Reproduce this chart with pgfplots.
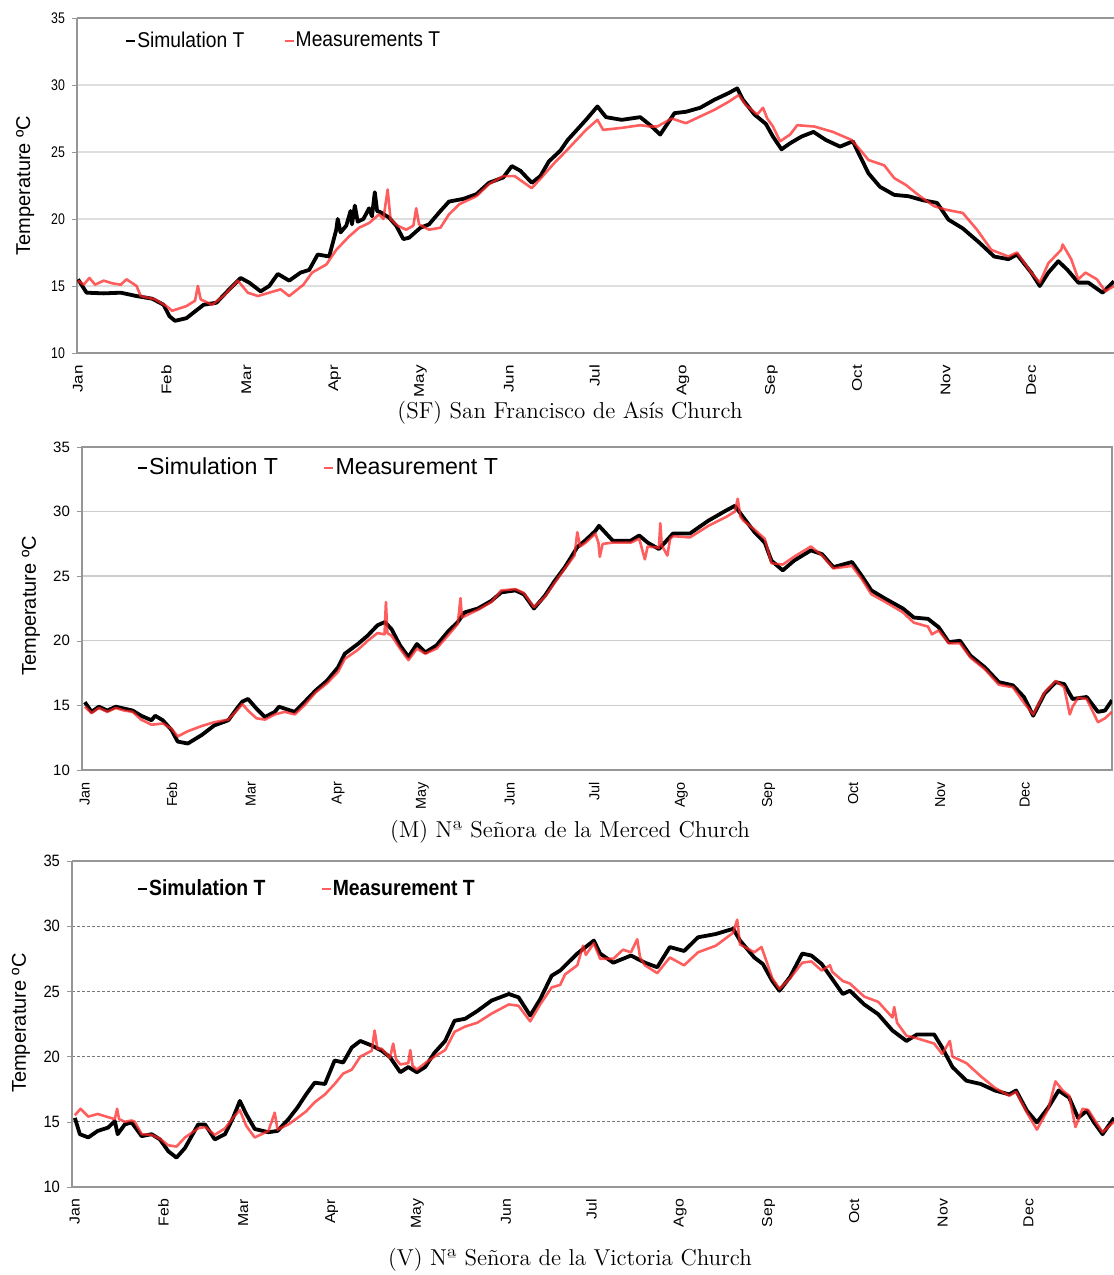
\documentclass[border=0pt]{standalone}
\usepackage{fontspec}
\usepackage{pgfplots}
\pgfplotsset{compat=1.18}
\newfontfamily\fA{Liberation Sans}
\newfontfamily\fN[FakeStretch=0.8]{Liberation Sans}
\newfontfamily\fNt[FakeStretch=0.9]{Liberation Sans}
\newfontfamily\fNB[FakeStretch=0.88]{Liberation Sans}
\newfontfamily\fW[FakeStretch=1.22]{Liberation Sans}
\newfontfamily\fWt[FakeStretch=1.1]{Liberation Sans}
\definecolor{meas}{RGB}{255,40,40}
\definecolor{axgray}{RGB}{150,150,150}
\definecolor{gridA}{RGB}{222,222,222}
\definecolor{gridB}{RGB}{205,205,205}
\definecolor{gridC}{RGB}{120,120,120}
\pgfplotsset{
  panel/.style={
    scale only axis, ymin=10, ymax=35, ytick={10,15,...,35},
    xtick={0,31,59,90,120,151,181,212,243,273,304,334},
    xticklabels={Jan,Feb,Mar,Apr,May,Jun,Jul,Ago,Sep,Oct,Nov,Dec},
    /pgf/number format/assume math mode=true,
    axis line style={-,draw=axgray,line width=0.7pt},
    major x tick style={draw=none},
    major y tick style={draw=axgray},
    tick align=outside, major tick length=2.5pt,
    ymajorgrids,
    xticklabel style={rotate=90,anchor=east},
    legend columns=2,
    legend cell align=left,
    legend image code/.code={\draw[#1,line width=1pt] (0pt,0pt) -- (4.5pt,0pt);},
    ylabel={Temperature ºC},
  },
  sim/.style={black,line width=1.9pt,line join=round},
  mea/.style={meas,opacity=0.75,line width=1.3pt,line join=round},
}
\begin{document}
\begin{tikzpicture}
\useasboundingbox (0pt,0pt) rectangle (557pt,637.5pt);
% ---------------- Panel 1 (SF)
\begin{axis}[panel, at={(38.5pt,461pt)}, anchor=south west,
  width=518.5pt, height=167.5pt, xmin=-0.35, xmax=363,
  axis x line*=box, axis y line*=left,
  major grid style={gridA,line width=0.7pt},
  yticklabel style={font=\fN\fontsize{7.7}{8}\selectfont},
  xticklabel style={font=\fW\fontsize{7}{8}\selectfont},
  ylabel style={font=\fA\fontsize{10}{11}\selectfont, at={(axis description cs:-0.050,0.5)}, anchor=center},
  legend style={draw=none,fill=none,inner sep=0pt,at={(axis description cs:0.046,0.931)},anchor=west,
    nodes={inner xsep=0.6pt},
    font=\fNt\fontsize{10.7}{12}\selectfont, /tikz/every even column/.append style={column sep=19pt}},
]
\addplot[sim] coordinates {(0,15.5)(3,14.5)(9,14.45)(15,14.5)(20.5,14.25)(26,14.05)(30,13.6)(32,12.75)(34,12.4)(38,12.6)(44,13.6)(48.5,13.75)(53,14.75)(57,15.6)(60,15.25)(64,14.6)(67,15.0)(70,15.9)(74,15.4)(78,16.0)(81,16.2)(84,17.35)(88,17.2)(90.5,19.2)(91,20.0)(92,19.0)(94,19.5)(95.5,20.6)(96,19.6)(97,21.0)(98,19.8)(100,20.0)(102,20.8)(103,20.2)(104,22.0)(104.8,20.6)(106,20.5)(109,20.1)(111.5,19.5)(114,18.5)(116,18.6)(120,19.35)(123,19.6)(127,20.6)(130,21.3)(135,21.5)(139.6,21.85)(144,22.7)(149,23.1)(152,23.95)(155,23.6)(159,22.7)(162,23.2)(165,24.3)(169,25.1)(171.6,25.9)(178,27.4)(182,28.4)(185,27.6)(190.5,27.4)(197,27.6)(200.5,27.0)(204,26.3)(209,27.9)(213,28.0)(218,28.3)(223,28.9)(228,29.4)(231,29.75)(233,28.9)(237,27.8)(241,27.1)(243.5,26.15)(246.5,25.2)(249.5,25.65)(253.5,26.15)(257.7,26.5)(262,25.9)(267,25.4)(271.5,25.8)(273.5,24.9)(277,23.4)(281,22.4)(286,21.8)(291,21.7)(296,21.4)(301,21.2)(305,19.95)(310,19.3)(316,18.2)(321,17.2)(326,17.0)(329,17.35)(334,16.0)(337,15.0)(340,16.0)(343.5,16.85)(346.7,16.2)(350.5,15.25)(354,15.25)(359,14.5)(363,15.35)};
\addlegendentry{Simulation T}
\addplot[mea] coordinates {(0,15.4)(2,15.1)(4,15.6)(6,15.1)(9,15.4)(12,15.2)(15,15.1)(17,15.5)(20.5,15.0)(22,14.25)(27,14.0)(31,13.5)(33,13.15)(38,13.5)(41,13.9)(42,15.0)(43,14.0)(47,13.6)(51,14.25)(56,15.4)(59.5,14.5)(63,14.25)(67,14.5)(71,14.75)(74,14.25)(79,15.1)(82,16.0)(87,16.6)(90.5,17.7)(95,18.7)(98.5,19.35)(102,19.7)(105.5,20.35)(107,20.0)(108.5,22.2)(109.5,20.0)(112,19.5)(115,19.2)(117.5,19.5)(118.5,20.8)(119.5,19.6)(123,19.2)(127,19.35)(130,20.35)(133.6,21.1)(139.6,21.7)(144,22.6)(149,23.2)(153,23.2)(159,22.3)(162,23.0)(167,24.2)(171.6,25.2)(178,26.65)(182,27.4)(184,26.65)(190.5,26.8)(197,27.0)(200.5,26.9)(203,26.9)(208,27.5)(213,27.15)(218,27.65)(223,28.15)(228,28.75)(231.5,29.25)(234,28.5)(238,27.8)(240,28.3)(241.5,27.5)(243.5,26.9)(246,25.8)(249.5,26.3)(252,27.0)(258,26.9)(264.5,26.5)(271,25.9)(273.5,25.3)(277,24.4)(282.5,24.0)(286,23.05)(290,22.55)(295,21.7)(300,20.95)(304,20.7)(310,20.45)(315,19.2)(320,17.7)(326,17.2)(329,17.5)(334,16.0)(337,15.25)(340,16.7)(344.5,17.7)(345,18.1)(348,17.0)(350.5,15.5)(353,16.0)(357,15.5)(360,14.6)(363,15.0)};
\addlegendentry{Measurements T}
\end{axis}
\node[font=\fontsize{11.5}{13}\selectfont] at (285pt,431pt) {(SF) San Francisco de Asís Church};
% ---------------- Panel 2 (M)
\begin{axis}[panel, at={(41pt,252.5pt)}, anchor=south west,
  width=515pt, height=161.5pt, xmin=-1, xmax=365,
  axis lines=box, ytick pos=left,
  major grid style={gridB,line width=0.7pt},
  yticklabel style={font=\fA\fontsize{7.5}{8}\selectfont},
  xticklabel style={font=\fA\fontsize{7.2}{8}\selectfont},
  ylabel style={font=\fA\fontsize{10}{11}\selectfont, at={(axis description cs:-0.0495,0.508)}, anchor=center},
  legend style={draw=none,fill=none,inner sep=0pt,at={(axis description cs:0.053,0.935)},anchor=west,
    nodes={inner xsep=0.6pt},
    font=\fA\fontsize{11.6}{13}\selectfont, /tikz/every even column/.append style={column sep=22pt}},
]
\addplot[sim] coordinates {(0,15.25)(2.4,14.5)(5,14.9)(8,14.6)(11,14.9)(14,14.75)(17,14.6)(20,14.2)(23.7,13.85)(25,14.2)(27.7,13.85)(30.8,13.1)(33,12.2)(36.6,12.05)(41.5,12.7)(46,13.45)(51,13.85)(54,14.75)(56,15.3)(58,15.5)(61,14.75)(64,14.1)(67.5,14.5)(69,14.9)(71,14.75)(74.6,14.5)(78,15.25)(82,16.15)(86,16.9)(90,17.95)(92.4,19.0)(97,19.75)(100.5,20.4)(104,21.2)(106.6,21.45)(109,20.9)(112,19.65)(115,18.75)(118,19.75)(121,19.1)(125,19.65)(129,20.7)(132.5,21.45)(135,22.2)(139.7,22.5)(144.5,23.1)(148,23.75)(153,23.9)(156,23.6)(159.6,22.5)(163.5,23.5)(167,24.65)(170.6,25.7)(175,27.25)(178,27.8)(181.4,28.5)(182.7,28.9)(187.6,27.75)(194,27.75)(197,28.15)(200,27.6)(204,27.1)(209,28.3)(215,28.3)(221.6,29.3)(228,30.1)(231,30.45)(234,29.55)(238,28.4)(241.6,27.6)(244,26.2)(248,25.45)(252,26.2)(258,27.0)(262,26.7)(266,25.7)(272.6,26.1)(276,25.05)(279.5,23.9)(284.5,23.25)(290.7,22.5)(294.6,21.8)(299.6,21.7)(303.4,21.05)(307,19.9)(311,20.0)(314.7,18.85)(319.8,17.95)(324.8,16.8)(329.8,16.55)(333.7,15.65)(337,14.2)(341,15.9)(345,16.8)(348,16.65)(351,15.5)(356,15.65)(360,14.5)(362.5,14.6)(365,15.4)};
\addlegendentry{Simulation T}
\addplot[mea] coordinates {(0,14.9)(2.4,14.4)(5,14.8)(8,14.5)(11,14.8)(14,14.6)(17,14.5)(20,13.9)(23.7,13.5)(27.7,13.6)(30.8,13.2)(33,12.6)(36.6,13.0)(41.5,13.4)(46,13.7)(51,13.9)(54,14.6)(56,15.1)(58,14.6)(61,14.0)(64,13.9)(67.5,14.3)(71,14.5)(74.6,14.3)(78,15.0)(82,16.0)(86,16.7)(90,17.6)(92.4,18.6)(97,19.3)(100.5,20.0)(104,20.6)(106.5,20.5)(107,23.0)(107.5,20.6)(109,20.4)(112,19.4)(115,18.5)(118,19.4)(121,19.0)(125,19.4)(129,20.4)(132.5,21.3)(133.5,23.3)(134,21.8)(139.7,22.4)(144.5,23.0)(148,23.9)(153,24.0)(156,23.7)(159.6,22.6)(163.5,23.4)(167,24.5)(170.6,25.6)(174,26.6)(175,28.4)(176,27.3)(178,27.6)(181.4,28.3)(182.5,27.6)(183,26.5)(184,27.5)(187.6,27.6)(194,27.6)(197,27.9)(199,26.3)(200,27.3)(204,27.2)(204.5,29.1)(205,27.4)(207,26.6)(208,27.9)(209,28.1)(215,28.0)(221.6,28.9)(228,29.6)(231,30.0)(232,31.0)(233,29.6)(234,29.3)(238,28.6)(241.6,27.9)(244,26.0)(248,25.9)(252,26.5)(258,27.3)(262,26.6)(266,25.6)(272.6,25.8)(276,24.8)(279.5,23.6)(284.5,23.0)(290.7,22.2)(294.6,21.4)(299.6,21.1)(301,20.5)(303.4,20.8)(307,19.8)(311,19.8)(314.7,18.7)(319.8,17.8)(324.8,16.6)(329.8,16.4)(333.7,15.2)(337,14.3)(341,16.0)(345,16.9)(348,16.4)(350,14.3)(351,14.9)(353,15.6)(356,15.5)(360,13.7)(362.5,14.0)(365,14.5)};
\addlegendentry{Measurement T}
\end{axis}
\node[font=\fontsize{11.5}{13}\selectfont] at (285pt,221.5pt) {(M) Nª Señora de la Merced Church};
% ---------------- Panel 3 (V)
\begin{axis}[panel, at={(36pt,44pt)}, anchor=south west,
  width=521pt, height=163pt, xmin=-1, xmax=364,
  axis x line*=box, axis y line*=left,
  major grid style={gridC,line width=0.4pt,dash pattern=on 1.5pt off 1pt},
  yticklabel style={font=\fNt\fontsize{8.2}{9}\selectfont},
  xticklabel style={font=\fWt\fontsize{7.2}{8}\selectfont},
  ylabel style={font=\fA\fontsize{10}{11}\selectfont, at={(axis description cs:-0.049,0.503)}, anchor=center},
  legend style={draw=none,fill=none,inner sep=0pt,at={(axis description cs:0.062,0.914)},anchor=west,
    nodes={inner xsep=0.6pt},
    font=\fNB\bfseries\fontsize{11}{12}\selectfont, /tikz/every even column/.append style={column sep=27pt}},
]
\addplot[sim] coordinates {(0,15.3)(1.75,14.05)(4.7,13.8)(8,14.3)(11.6,14.55)(14,15.05)(15,14.05)(17.5,14.8)(19.9,14.95)(23.4,13.9)(26.9,14.05)(29.8,13.65)(32.7,12.75)(35.6,12.25)(38.6,13.0)(43.2,14.8)(45.6,14.8)(49,13.65)(52.6,14.05)(55.4,15.3)(57.8,16.6)(60,15.6)(63,14.45)(67.8,14.2)(71,14.3)(74.8,15.2)(78,16.1)(81,17.1)(84,18.0)(87.6,17.9)(91,19.7)(94,19.55)(97,20.7)(100,21.2)(104,20.85)(107.5,20.45)(110.4,19.95)(114,18.8)(116.8,19.2)(119.8,18.8)(122.7,19.2)(126,20.3)(129.7,21.2)(133,22.75)(136.7,22.9)(141,23.5)(146,24.3)(152,24.8)(155.4,24.55)(159.5,23.15)(163,24.4)(167,26.2)(170,26.6)(176,27.9)(181.8,28.9)(184,27.9)(188.6,27.2)(194.8,27.75)(199.7,27.2)(204,26.85)(208.4,28.4)(213.4,28.1)(218.3,29.15)(224.5,29.4)(230.6,29.8)(233,28.9)(238,27.6)(241,27.1)(244.3,25.8)(246.8,25.05)(250.5,26.1)(254.8,27.9)(258,27.75)(261.6,27.1)(265.3,25.95)(269,24.8)(271.5,25.05)(276.5,24.0)(281.4,23.25)(286.4,22.0)(291.3,21.2)(295,21.7)(301,21.7)(303.8,20.7)(307.4,19.2)(312.3,18.15)(317.3,17.9)(322.3,17.4)(327.3,17.1)(329.7,17.4)(333.5,15.85)(337,14.95)(341,16.1)(344.6,17.4)(348.3,16.85)(351.4,15.3)(354.5,15.85)(357,14.95)(360,14.05)(364,15.3)};
\addlegendentry{Simulation T}
\addplot[mea] coordinates {(0,15.5)(2,16.0)(4.7,15.4)(8,15.6)(11,15.4)(14,15.2)(14.8,16.0)(15.5,15.2)(17.5,15.0)(19.9,15.1)(21,15.0)(23.4,14.05)(26.9,14.0)(29.8,13.7)(32.7,13.2)(35.6,13.1)(38.6,13.8)(43.2,14.5)(45.6,14.6)(49,14.0)(52.6,14.5)(55.4,15.3)(57.8,15.9)(60,14.7)(63,13.8)(67.8,14.3)(70,15.7)(71,14.4)(74.8,14.8)(78,15.3)(81,15.8)(84,16.5)(87.6,17.1)(91,17.9)(94,18.7)(97,19.0)(100,20.0)(104,20.45)(105,22.0)(106,20.6)(107.5,20.6)(110.4,19.9)(111.5,21.0)(112.5,19.8)(114,19.4)(116.8,19.5)(117.5,20.5)(118.3,19.3)(119.8,19.0)(122.7,19.5)(126,20.0)(129.7,20.5)(133,21.9)(136.7,22.3)(141,22.6)(146,23.3)(152,24.0)(155.4,23.9)(159.5,22.7)(163,24.0)(167,25.3)(170,25.5)(171.7,26.3)(176,27.0)(178,28.5)(179,27.8)(181.8,28.7)(184,27.5)(188.6,27.5)(192,28.2)(194.8,28.0)(197,29.0)(198,27.6)(199.7,27.0)(204,26.4)(208.4,27.6)(213.4,27.0)(218.3,28.0)(224.5,28.5)(230.6,29.5)(232,30.5)(233,28.6)(238,28.0)(240.5,28.4)(241.5,27.8)(244.3,26.0)(246.8,25.2)(250.5,26.0)(254.8,27.2)(258,27.3)(261.6,26.6)(264.5,27.0)(265.3,26.5)(269,25.8)(271.5,25.6)(276.5,24.6)(281.4,24.2)(286.4,23.0)(287,23.8)(288,22.6)(291.3,21.6)(295,21.4)(301,21.0)(303.8,20.2)(306.5,21.2)(307.4,20.0)(312.3,19.5)(317.3,18.5)(322.3,17.6)(327.3,17.0)(329.7,17.3)(333.5,15.7)(337,14.4)(341,16.0)(343.5,18.1)(346,17.4)(348.3,17.0)(350.5,14.6)(353,16.0)(355,15.9)(357,15.2)(360,14.2)(364,15.0)};
\addlegendentry{Measurement T}
\end{axis}
\node[font=\fontsize{11.5}{13}\selectfont] at (285pt,7.5pt) {(V) Nª Señora de la Victoria Church};
\end{tikzpicture}
\end{document}
